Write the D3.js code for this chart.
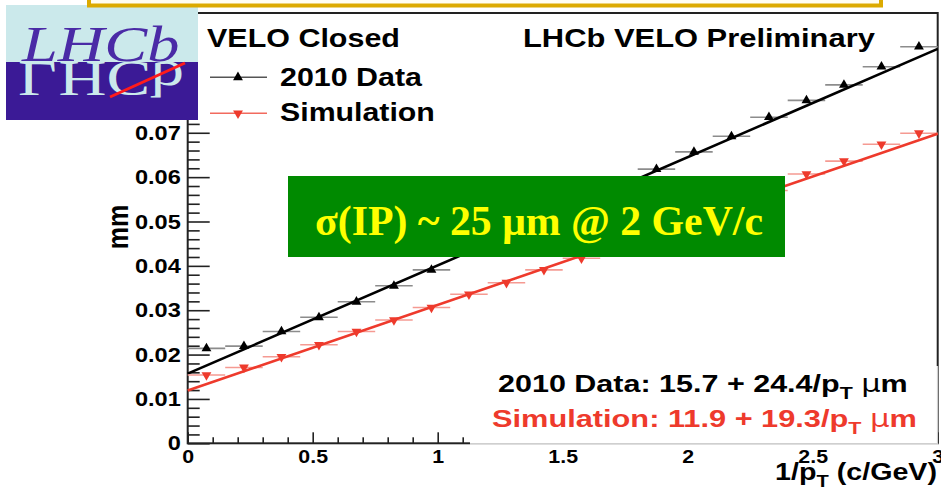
<!DOCTYPE html>
<html>
<head>
<meta charset="utf-8">
<script src="https://cdn.jsdelivr.net/npm/d3@7"></script>
<style>
  html, body { margin: 0; padding: 0; background: #ffffff; }
  svg { display: block; }
</style>
</head>
<body>
<svg id="vis"></svg>
<script>
// Datos
const binCenters = [0.075, 0.225, 0.375, 0.525, 0.675, 0.825, 0.975, 1.125, 1.275, 1.425,
                    1.575, 1.725, 1.875, 2.025, 2.175, 2.325, 2.475, 2.625, 2.775, 2.925];
const binHalfWidth = 0.075;
const dataValues = [0.0214, 0.0219, 0.0252, 0.0284, 0.0319, 0.0355, 0.0391, 0.0430, 0.0466, 0.0503,
                    0.0540, 0.0577, 0.0618, 0.0657, 0.0692, 0.0735, 0.0773, 0.0808, 0.0849, 0.0894];
const simValues = [0.0154, 0.0171, 0.0195, 0.0222, 0.0252, 0.0278, 0.0306, 0.0336, 0.0362, 0.0391,
                   0.0417, 0.0450, 0.0480, 0.0510, 0.0539, 0.0570, 0.0607, 0.0636, 0.0674, 0.0699];
// parametros del ajuste (um): a + b / pT
const fitData = [15.7, 24.4];
const fitSim = [11.9, 19.3];
const xTicks = [0, 0.5, 1, 1.5, 2, 2.5, 3];
const xTickLabels = ["0", "0.5", "1", "1.5", "2", "2.5", "3"];
const yTicks = [0, 0.01, 0.02, 0.03, 0.04, 0.05, 0.06, 0.07];
const yTickLabels = ["0", "0.01", "0.02", "0.03", "0.04", "0.05", "0.06", "0.07"];

const WIDTH = 941;
const HEIGHT = 493;
const FONT = "'Liberation Sans', Arial, Helvetica, sans-serif";
const SERIF = "'Liberation Serif', 'Times New Roman', serif";
const RED = "#ee3a2c";

const svg = d3.select("#vis")
    .attr("width", WIDTH)
    .attr("height", HEIGHT);

// escalas
const x = d3.scaleLinear().domain([0, 3]).range([187.7, 937.7]);
const y = d3.scaleLinear().domain([0, 0.097]).range([443.3, 13]);

// texto con estiramiento horizontal (la imagen original esta estirada)
function addText(g, px, py, str, opts) {
    const t = g.append("text")
        .attr("font-family", opts.family || FONT)
        .attr("font-weight", opts.weight || "bold")
        .attr("font-size", opts.size)
        .attr("fill", opts.fill || "#000")
        .attr("text-anchor", opts.anchor || "start");
    if (typeof str === "string") {
        t.text(str);
    } else {
        // lista de trozos [texto, tipo]
        str.forEach(p => {
            const s = t.append("tspan").text(p[0]);
            if (p[1] === "sub") s.attr("font-size", opts.size * 0.7).attr("dy", opts.size * 0.32);
            if (p[1] === "back") s.attr("dy", -opts.size * 0.32);
            if (p[1] === "mu") s.attr("font-weight", "normal").attr("font-family", "'DejaVu Sans', sans-serif");
        });
    }
    let sx = opts.sx || 1.2;
    if (opts.w) {
        const w = t.node().getComputedTextLength();
        sx = opts.w / w;
    }
    t.attr("transform", `translate(${px},${py}) scale(${sx},1)` + (opts.rotate ? ` rotate(${opts.rotate})` : ""));
    return t;
}

// fondo
svg.append("rect").attr("width", WIDTH).attr("height", HEIGHT).attr("fill", "#fff");

// EJES
const minorX = d3.range(0, 31).map(i => i / 10).filter(v => Math.abs(v * 2 - Math.round(v * 2)) > 1e-6);
const minorY = d3.range(0, 49).map(i => i * 0.002).filter(v => Math.abs(v * 100 - Math.round(v * 100)) > 1e-6);

const axisG = svg.append("g").attr("id", "axes");

axisG.append("g")
    .attr("transform", `translate(0,${y(0)})`)
    .call(d3.axisBottom(x).tickValues(minorX).tickSizeInner(-6).tickSizeOuter(0).tickFormat(""));
axisG.append("g")
    .attr("id", "ejeX")
    .attr("transform", `translate(0,${y(0)})`)
    .call(d3.axisBottom(x).tickValues(xTicks).tickSizeInner(-11).tickSizeOuter(0)
        .tickFormat((d, i) => xTickLabels[i]).tickPadding(7));

axisG.append("g")
    .attr("transform", `translate(${x(0)},0)`)
    .call(d3.axisLeft(y).tickValues(minorY).tickSizeInner(-12).tickSizeOuter(0).tickFormat(""));
axisG.append("g")
    .attr("id", "ejeY")
    .attr("transform", `translate(${x(0)},0)`)
    .call(d3.axisLeft(y).tickValues(yTicks).tickSizeInner(-22).tickSizeOuter(0)
        .tickFormat((d, i) => yTickLabels[i]).tickPadding(6));

axisG.selectAll(".domain").remove();
axisG.selectAll("line").attr("stroke", "#222").attr("stroke-width", 1.6);

axisG.select("#ejeX").selectAll("text")
    .attr("font-family", FONT).attr("font-weight", "bold").attr("font-size", 17.5)
    .attr("fill", "#000").attr("dy", "0.71em")
    .attr("transform", "scale(1.22,1)");
axisG.select("#ejeY").selectAll("text")
    .attr("font-family", FONT).attr("font-weight", "bold").attr("font-size", 20.5)
    .attr("fill", "#000")
    .attr("transform", "scale(1.15,1)");

// marco
svg.append("rect")
    .attr("x", x(0)).attr("y", y.range()[1])
    .attr("width", x(3) - x(0)).attr("height", y(0) - y.range()[1])
    .attr("fill", "none").attr("stroke", "#222").attr("stroke-width", 2);

// DATOS
const series = [
    { vals: dataValues, fit: fitData, color: "#000", bar: "#8c8c8c", symbol: d3.symbolTriangle, rot: 0 },
    { vals: simValues, fit: fitSim, color: RED, bar: "#f59a92", symbol: d3.symbolTriangle, rot: 180 }
];

const plotG = svg.append("g").attr("id", "plot");

series.forEach(s => {
    // barras de error horizontales (ancho del bin)
    plotG.append("g").selectAll("line")
        .data(binCenters)
        .join("line")
        .attr("x1", d => x(d - binHalfWidth))
        .attr("x2", d => x(d + binHalfWidth))
        .attr("y1", (d, i) => y(s.vals[i]))
        .attr("y2", (d, i) => y(s.vals[i]))
        .attr("stroke", s.bar)
        .attr("stroke-width", 1.6);

    // funcion de ajuste
    const ends = [0, 3].map(v => [v, (s.fit[0] + s.fit[1] * v) / 1000]);
    plotG.append("path")
        .attr("d", d3.line().x(d => x(d[0])).y(d => y(d[1]))(ends))
        .attr("stroke", s.color)
        .attr("stroke-width", 2.6)
        .attr("fill", "none");

    // marcadores
    plotG.append("g").selectAll("path")
        .data(binCenters)
        .join("path")
        .attr("d", d3.symbol().type(s.symbol).size(42))
        .attr("transform", (d, i) => `translate(${x(d)},${y(s.vals[i])}) rotate(${s.rot})`)
        .attr("fill", s.color);
});

// caja blanca de la leyenda (tapa las marcas del eje arriba)
svg.append("rect").attr("x", 190).attr("y", 14).attr("width", 270).attr("height", 107).attr("fill", "#fff");

// LEYENDA
addText(svg, 207, 47, "VELO Closed", { size: 25, w: 193 });
addText(svg, 280, 85.5, "2010 Data", { size: 25, w: 142 });
addText(svg, 280, 121, "Simulation", { size: 25, w: 155 });
addText(svg, 523, 47, "LHCb VELO Preliminary", { size: 25, w: 352 });

const legendRows = [{ yy: 77.3, s: series[0] }, { yy: 113.3, s: series[1] }];
legendRows.forEach(r => {
    svg.append("line")
        .attr("x1", 210).attr("x2", 267).attr("y1", r.yy).attr("y2", r.yy)
        .attr("stroke", r.s.color === "#000" ? "#555" : "#f26a5e").attr("stroke-width", 1.4);
    svg.append("path")
        .attr("d", d3.symbol().type(r.s.symbol).size(42))
        .attr("transform", `translate(238,${r.yy}) rotate(${r.s.rot})`)
        .attr("fill", r.s.color);
});

// titulos de ejes
addText(svg, 128, 227, "mm", { size: 25, anchor: "middle", sx: 1.2, rotate: -90 });
addText(svg, 937, 480, [["1/p"], ["T", "sub"], [" (c/GeV)", "back"]], { size: 23, anchor: "end", w: 162 });

// cuadro verde
svg.append("rect")
    .attr("x", 288).attr("y", 176).attr("width", 497).attr("height", 81)
    .attr("fill", "#008a00");
addText(svg, 539, 235, "σ(IP) ~ 25 μm @ 2 GeV/c",
    { size: 43, anchor: "middle", family: SERIF, fill: "#ffff00", w: 448 });

// cuadro del ajuste abajo a la derecha
svg.append("rect")
    .attr("x", 470).attr("y", 366).attr("width", 468).attr("height", 78.5)
    .attr("fill", "#fff");
svg.append("path")
    .attr("d", "M470,443.5 H937.5 V366")
    .attr("fill", "none").attr("stroke", "#cfcfcf").attr("stroke-width", 1.2);
addText(svg, 498, 391.7,
    [["2010 Data: 15.7 + 24.4/p"], ["T", "sub"], [" ", "back"], ["μ", "mu"], ["m"]],
    { size: 24, w: 410 });
addText(svg, 492, 426.7,
    [["Simulation: 11.9 + 19.3/p"], ["T", "sub"], [" ", "back"], ["μ", "mu"], ["m"]],
    { size: 24, w: 425, fill: RED });

// LOGO LHCb
const logo = svg.append("g").attr("id", "logo");
logo.append("clipPath").attr("id", "logoClip")
    .append("rect").attr("x", 6).attr("y", 5).attr("width", 192).attr("height", 115);
logo.append("rect").attr("x", 6).attr("y", 5).attr("width", 192).attr("height", 57).attr("fill", "#cbe9eb");
logo.append("rect").attr("x", 6).attr("y", 62).attr("width", 192).attr("height", 58).attr("fill", "#3b1a96");
const inner = logo.append("g").attr("clip-path", "url(#logoClip)");
addText(inner.append("g").attr("transform", "translate(0,124) scale(1,-1)"), 18, 62, "LHCb",
    { size: 50, family: SERIF, weight: "normal", fill: "#cbe9eb", w: 166 });
inner.append("line")
    .attr("x1", 110).attr("y1", 97).attr("x2", 185).attr("y2", 63)
    .attr("stroke", "#ff1b1b").attr("stroke-width", 3);
addText(inner, 22, 61, "LHCb",
    { size: 50, family: SERIF, weight: "normal", fill: "#4a2aa6", w: 161 })
    .attr("font-style", "italic");

// recuadro amarillo de la diapositiva arriba
svg.append("rect")
    .attr("x", 89).attr("y", -20).attr("width", 792).attr("height", 25.5)
    .attr("fill", "#fffdf2").attr("stroke", "#dcaa00").attr("stroke-width", 4);
</script>
</body>
</html>
